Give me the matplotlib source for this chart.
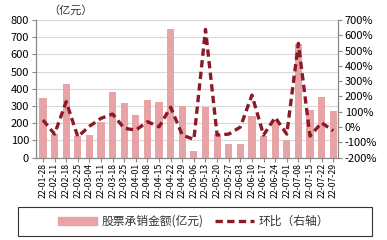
import matplotlib
matplotlib.use("Agg")
import matplotlib.pyplot as plt
import numpy as np
from matplotlib.patches import Patch, Rectangle
from matplotlib.lines import Line2D

plt.rcParams['font.family'] = ['Noto Sans CJK SC', 'DejaVu Sans']

dates = ["22-01-28", "22-02-11", "22-02-18", "22-02-25", "22-03-04", "22-03-11", "22-03-18",
         "22-03-25", "22-04-01", "22-04-08", "22-04-15", "22-04-22", "22-04-29", "22-05-06",
         "22-05-13", "22-05-20", "22-05-27", "22-06-03", "22-06-10", "22-06-17", "22-06-24",
         "22-07-01", "22-07-08", "22-07-15", "22-07-22", "22-07-29"]
amount = [344, 140, 427, 125, 131, 209, 383, 317, 248, 337, 325, 750, 302, 39,
          296, 140, 77, 77, 244, 126, 219, 103, 663, 277, 354, 273]
mom = [46, -46, 166, -63, 5, 57, 85, -8, -20, 35, 2, 130, -52, -81,
       638, -52, -46, 0, 209, -52, 63, -46, 547, -59, 28, -24]

bar_color = "#E8A3A6"
line_color = "#8B1A26"
dash = (0, (2.2, 1.3))

fig = plt.figure(figsize=(3.87, 2.40), dpi=100)
ax = fig.add_axes([0.093, 0.343, 0.780, 0.574])
x = np.arange(len(dates))
ax.bar(x, amount, width=0.62, color=bar_color, zorder=2)
ax.set_ylim(0, 800)
ax.set_yticks(range(0, 801, 100))
ax.set_xlim(-0.6, len(dates) - 0.6)
ax.set_xticks(x)
ax.set_xticklabels(dates, rotation=90, fontsize=6.3)
ax.tick_params(axis='y', labelsize=8, length=3, color='#888888', pad=2)
ax.tick_params(axis='x', length=3, color='#888888', pad=1)
ax.yaxis.grid(True, color='#D9D9D9', linewidth=0.8, zorder=0)
ax.set_axisbelow(True)
ax.spines['top'].set_visible(False)
for s in ['left', 'right', 'bottom']:
    ax.spines[s].set_color('#888888')
    ax.spines[s].set_linewidth(0.8)

ax2 = ax.twinx()
ax2.plot(x, mom, color=line_color, linewidth=2.4, linestyle=dash, zorder=3)
ax2.set_ylim(-200, 700)
ax2.set_yticks(range(-200, 701, 100))
ax2.set_yticklabels([f"{v}%" for v in range(-200, 701, 100)])
ax2.tick_params(axis='y', labelsize=8, length=3, color='#888888', pad=2)
ax2.spines['top'].set_visible(False)
for s in ['left', 'right', 'bottom']:
    ax2.spines[s].set_color('#888888')
    ax2.spines[s].set_linewidth(0.8)

fig.text(0.125, 0.933, "（亿元）", fontsize=8, color='#333333', va='bottom')

# legend box
fig.patches.append(Rectangle((0.0465, 0.017), 0.915, 0.121, transform=fig.transFigure,
                             fill=False, edgecolor='#333333', linewidth=0.8))
handles = [Patch(color=bar_color), Line2D([0], [0], color=line_color, linewidth=2.4, linestyle=dash)]
labels = ["股票承销金额(亿元)", "环比（右轴）"]
leg = fig.legend(handles, labels, loc='center', bbox_to_anchor=(0.5, 0.077),
                 ncol=2, fontsize=8.5, frameon=False, handlelength=3.3, handleheight=0.6,
                 columnspacing=1.0, handletextpad=0.4)
for t in leg.get_texts():
    t.set_color('#333333')

fig.savefig("out.png", dpi=100)
